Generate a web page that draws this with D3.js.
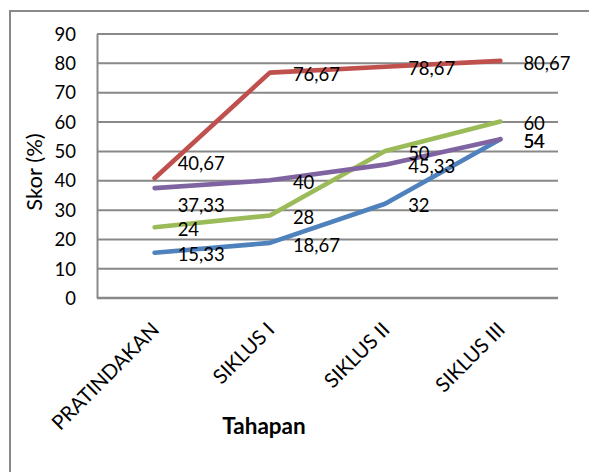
<!DOCTYPE html>
<html>
<head>
<meta charset="utf-8">
<script src="https://cdn.jsdelivr.net/npm/d3@7"></script>
<style>
  html, body { margin: 0; padding: 0; background: #fff; }
  svg { display: block; font-family: Lato, "Open Sans", sans-serif; }
</style>
</head>
<body>
<svg id="chart" width="589" height="472"></svg>
<script>
const categories = ["PRATINDAKAN", "SIKLUS I", "SIKLUS II", "SIKLUS III"];
const seriesBlue   = [15.33, 18.67, 32, 54];
const seriesRed    = [40.67, 76.67, 78.67, 80.67];
const seriesGreen  = [24, 28, 50, 60];
const seriesPurple = [37.33, 40, 45.33, 54];
const yTicks = [0, 10, 20, 30, 40, 50, 60, 70, 80, 90];
const yTitle = "Skor (%)";
const xTitle = "Tahapan";

// label nudges (pixels) for the two labels moved off their points in the reference
const labelNudge = { red0: -16.6, purple0: 15 };

const series = [
  { key: "blue",   values: seriesBlue,   color: "#4F81BD" },
  { key: "red",    values: seriesRed,    color: "#C0504D" },
  { key: "green",  values: seriesGreen,  color: "#9BBB59" },
  { key: "purple", values: seriesPurple, color: "#8064A2" }
];

const svg = d3.select("#chart");
const pLeft = 97, pRight = 558, pTop = 33.5, pBottom = 297.7;
const grey = "#898989";

// outer border
svg.append("rect").attr("x", 10).attr("y", 11).attr("width", 620).attr("height", 500)
  .attr("fill", "none").attr("stroke", grey).attr("stroke-width", 2);

const x = d3.scalePoint().domain(categories).range([pLeft, pRight]).padding(0.5);
const y = d3.scaleLinear().domain([0, 90]).range([pBottom, pTop]);

// y axis with gridlines
const yAxis = svg.append("g").attr("transform", `translate(${pLeft},0)`)
  .call(d3.axisLeft(y).tickValues(yTicks).tickSizeInner(-(pRight - pLeft)).tickSizeOuter(0).tickPadding(21));
yAxis.selectAll("line").attr("stroke", grey).attr("stroke-width", 2);
yAxis.select(".domain").attr("stroke", grey).attr("stroke-width", 2);
yAxis.selectAll("text").attr("font-family", "Lato").attr("font-size", "18.5px").attr("fill", "#000")
  .attr("dy", "0.36em");

// x axis
const xAxis = svg.append("g").attr("transform", `translate(0,${pBottom})`)
  .call(d3.axisBottom(x).tickSize(0).tickSizeOuter(0));
xAxis.select(".domain").attr("stroke", grey).attr("stroke-width", 2)
  .attr("d", `M${pLeft},0H${pRight}`);
xAxis.selectAll(".tick text")
  .attr("font-family", "Lato").attr("font-size", "20.3px").attr("fill", "#000")
  .attr("text-anchor", "end")
  .attr("x", 0).attr("y", 0).attr("dy", "0.72em")
  .attr("transform", "translate(-5,23) rotate(-45)");

// lines
const line = d3.line().x((d, i) => x(categories[i])).y(d => y(d));
svg.append("g").selectAll("path").data(series).join("path")
  .attr("d", d => line(d.values))
  .attr("fill", "none").attr("stroke", d => d.color).attr("stroke-width", 4.6)
  .attr("stroke-linecap", "round").attr("stroke-linejoin", "round");

// data labels
const fmt = v => String(v).replace(".", ",");
const labels = [];
series.forEach(s => s.values.forEach((v, i) => {
  labels.push({ v, i, nudge: labelNudge[s.key + i] || 0 });
}));
svg.append("g").selectAll("text").data(labels).join("text")
  .attr("x", d => x(categories[d.i]) + 23)
  .attr("y", d => y(d.v) + 2 + d.nudge)
  .attr("dy", "0.36em")
  .attr("font-family", "Lato").attr("font-size", "18.5px").attr("fill", "#000")
  .text(d => fmt(d.v));

// axis titles
svg.append("text").attr("transform", "translate(42,172) rotate(-90)")
  .attr("text-anchor", "middle").attr("font-family", "Lato").attr("font-size", "22px")
  .attr("fill", "#000").text(yTitle);
svg.append("text").attr("x", 264).attr("y", 434)
  .attr("text-anchor", "middle").attr("font-family", "Lato").attr("font-weight", "bold")
  .attr("font-size", "22.5px").attr("fill", "#000").text(xTitle);
</script>
</body>
</html>
